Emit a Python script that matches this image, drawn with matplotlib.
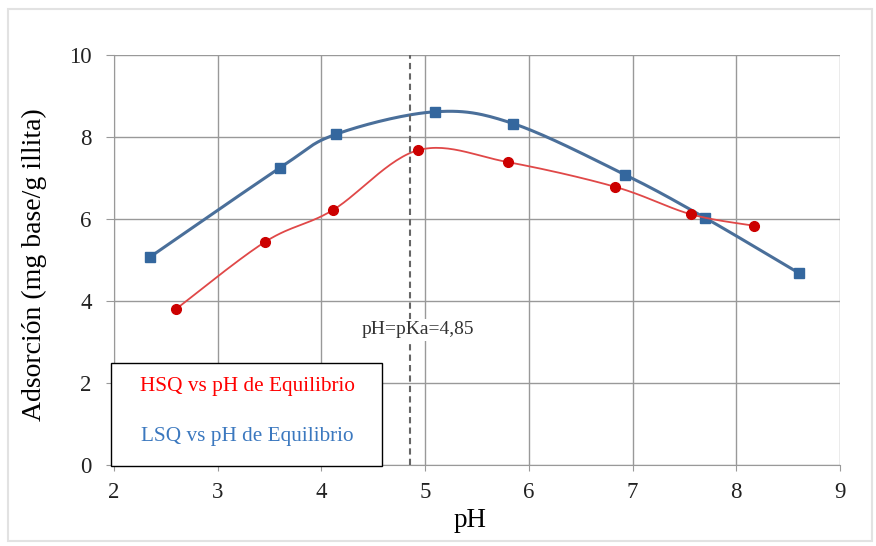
import matplotlib.pyplot as plt
import matplotlib.patches as mpatches
import numpy as np

plt.rcParams['font.family'] = ['Liberation Serif', 'DejaVu Serif']

# datos
ph_hsq = [2.60, 3.46, 4.11, 4.93, 5.80, 6.83, 7.56, 8.17]
ads_hsq = [3.81, 5.45, 6.22, 7.68, 7.39, 6.79, 6.12, 5.84]
ph_lsq = [2.35, 3.60, 4.14, 5.10, 5.85, 6.93, 7.70, 8.60]
ads_lsq = [5.08, 7.25, 8.07, 8.62, 8.33, 7.08, 6.03, 4.69]
pka = 4.85
x_ticks = [2, 3, 4, 5, 6, 7, 8, 9]
y_ticks = [0, 2, 4, 6, 8, 10]
label_hsq = 'HSQ vs pH de Equilibrio'
label_lsq = 'LSQ vs pH de Equilibrio'


def suavizar(x, y, n=30):
    # curva suavizada tipo Excel (Catmull-Rom) entre los puntos
    p = np.column_stack([x, y])
    p = np.vstack([p[0], p, p[-1]])
    out = []
    for i in range(1, len(p) - 2):
        p0, p1, p2, p3 = p[i - 1], p[i], p[i + 1], p[i + 2]
        c1 = p1 + (p2 - p0) / 6
        c2 = p2 - (p3 - p1) / 6
        t = np.linspace(0, 1, n)[:, None]
        seg = (1 - t) ** 3 * p1 + 3 * (1 - t) ** 2 * t * c1 + 3 * (1 - t) * t ** 2 * c2 + t ** 3 * p2
        out.append(seg)
    out = np.vstack(out)
    return out[:, 0], out[:, 1]


W, H = 876, 546
fig = plt.figure(figsize=(W / 100, H / 100), dpi=100)
marco = mpatches.Rectangle((8 / W, 1 - 541 / H), 864 / W, 532 / H, transform=fig.transFigure,
                           facecolor='none', edgecolor='#e2e2e2', linewidth=1.5)
fig.patches.append(marco)
ax = fig.add_axes([0.130, 0.148, 0.829, 0.751])

ax.set_xlim(2, 9)
ax.set_ylim(0, 10)
ax.set_xticks(x_ticks)
ax.set_yticks(y_ticks)
ax.grid(True, color='#999999', linewidth=1)
ax.set_axisbelow(True)
for s in ['top', 'right']:
    ax.spines[s].set_visible(False)
for s in ['left', 'bottom']:
    ax.spines[s].set_color('#999999')
ax.tick_params(colors='#999999', labelcolor='#222222', labelsize=16.5, direction='out')
ax.tick_params(axis='y', length=6, pad=10)
ax.tick_params(axis='x', length=4, pad=8)

xs, ys = suavizar(ph_lsq, ads_lsq)
ax.plot(xs, ys, color='#4a6f9a', linewidth=2.2)
ax.plot(ph_lsq, ads_lsq, 's', color='#34679e', markersize=7, linestyle='none')

xs, ys = suavizar(ph_hsq, ads_hsq)
ax.plot(xs, ys, color='#e04848', linewidth=1.3)
ax.plot(ph_hsq, ads_hsq, 'o', color='#cc0000', markersize=7, linestyle='none')

ax.axvline(pka, color='#666666', linestyle=(0, (3, 2)), linewidth=1.5)
ax.text(pka + 0.08, 3.3, 'pH=pKa=4,85', ha='center', va='center', fontsize=14, color='#333333',
        bbox=dict(facecolor='white', edgecolor='none', pad=2))

ax.set_xlabel('pH', fontsize=19.5, va='center')
ax.xaxis.set_label_coords(0.49, -0.134)
ax.set_ylabel('Adsorción (mg base/g illita)', fontsize=20, va='center')
ax.yaxis.set_label_coords(-0.109, 0.49)

# caja de leyenda
caja = mpatches.Rectangle((111 / W, 1 - 466 / H), 271 / W, 103 / H, transform=fig.transFigure,
                          facecolor='white', edgecolor='black', linewidth=1, zorder=5)
fig.patches.append(caja)
fig.text(247 / W, 1 - 387 / H, label_hsq, color='#ff0000', fontsize=15.3, ha='center', va='center', zorder=6)
fig.text(247 / W, 1 - 437 / H, label_lsq, color='#3b78bf', fontsize=15.3, ha='center', va='center', zorder=6)

plt.savefig('out.png', dpi=100)
